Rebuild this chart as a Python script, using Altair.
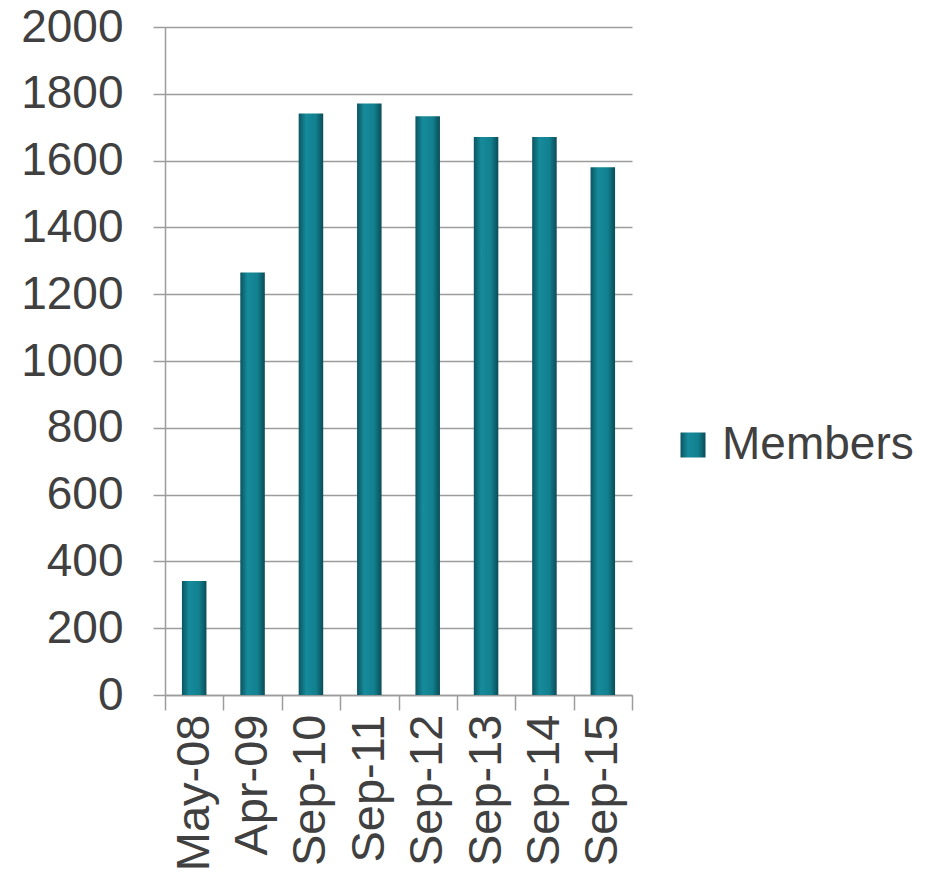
import altair as alt
import pandas as pd

categories = ["May-08", "Apr-09", "Sep-10", "Sep-11", "Sep-12", "Sep-13", "Sep-14", "Sep-15"]
members = [341, 1265, 1741, 1771, 1733, 1671, 1671, 1580]
series_name = "Members"
y_ticks = list(range(0, 2001, 200))

df = pd.DataFrame({"period": categories, "value": members, "series": series_name})

font = "Liberation Sans"
text_color = "#404040"
grid_color = "#9c9c9c"

bar_fill = alt.Gradient(
    gradient="linear",
    x1=0, x2=1, y1=0, y2=0,
    stops=[
        alt.GradientStop(color="#0b5560", offset=0),
        alt.GradientStop(color="#168b9b", offset=0.3),
        alt.GradientStop(color="#12808f", offset=0.7),
        alt.GradientStop(color="#0a4c57", offset=1),
    ],
)

chart = (
    alt.Chart(df)
    .mark_bar(fill=bar_fill, width=alt.RelativeBandSize(0.42))
    .encode(
        x=alt.X(
            "period:N",
            sort=categories,
            title=None,
            scale=alt.Scale(paddingInner=0, paddingOuter=0),
            axis=alt.Axis(
                labelAngle=-90,
                labelAlign="right",
                labelBaseline="middle",
                labelFont=font,
                labelFontSize=47,
                labelColor=text_color,
                labelPadding=4,
                tickBand="extent",
                tickSize=15,
                tickColor=grid_color,
                tickWidth=1.5,
                domainColor=grid_color,
                domainWidth=1.5,
                grid=False,
            ),
        ),
        y=alt.Y(
            "value:Q",
            title=None,
            scale=alt.Scale(domain=[0, 2000], nice=False),
            axis=alt.Axis(
                values=y_ticks,
                format="d",
                labelFont=font,
                labelFontSize=46,
                labelColor=text_color,
                labelPadding=30,
                tickSize=12,
                tickColor=grid_color,
                tickWidth=1.5,
                domainColor=grid_color,
                domainWidth=1.5,
                gridColor=grid_color,
                gridWidth=1.5,
                grid=True,
            ),
        ),
        opacity=alt.Opacity(
            "series:N",
            scale=alt.Scale(range=[1]),
            legend=alt.Legend(
                title=None,
                orient="none",
                legendX=505,
                legendY=395,
                symbolType="square",
                symbolSize=625,
                symbolFillColor="#127f8e",
                symbolStrokeColor="#0a4c57",
                symbolStrokeWidth=1,
                labelFont=font,
                labelFontSize=46,
                labelColor=text_color,
                labelOffset=6,
                labelLimit=0,
            ),
        ),
    )
    .properties(
        width=467,
        height=668,
        autosize=alt.AutoSizeParams(type="none"),
        padding={"left": 157, "top": 19, "right": 290, "bottom": 179},
    )
    .configure_view(stroke=None)
)

chart.save("out.html", embed_options={"renderer": "svg", "actions": False})
